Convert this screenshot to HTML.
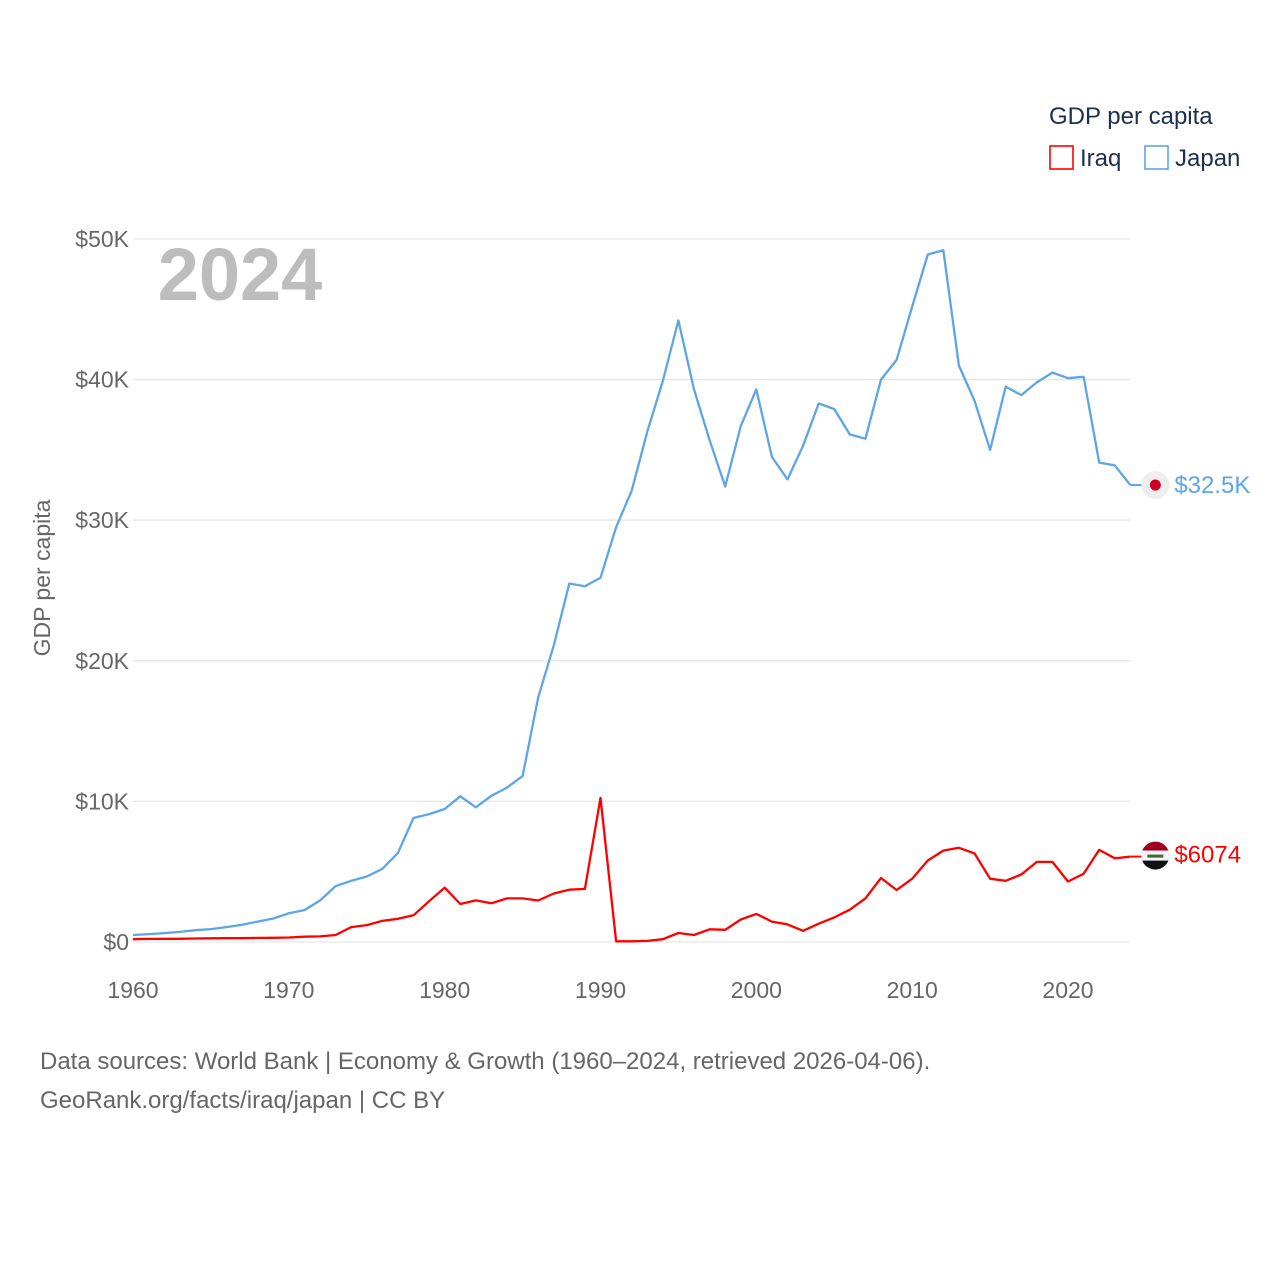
<!DOCTYPE html>
<html><head><meta charset="utf-8"><style>
html,body{margin:0;padding:0;background:#fff;}
svg{display:block;font-family:"Liberation Sans",sans-serif;}
</style></head><body>
<svg id="chart" width="1280" height="1280" viewBox="0 0 1280 1280">
  <g id="grid"></g>
  <g id="yticks"></g>
  <g id="xticks"></g>
  <text x="240" y="300" font-size="74" font-weight="bold" fill="#bdbdbd" text-anchor="middle">2024</text>
  <text transform="translate(50,578) rotate(-90)" font-size="23" fill="#666" text-anchor="middle">GDP per capita</text>
  <g id="series"></g>
  <g>
    <text x="1049" y="124" font-size="24" fill="#1d2f4e">GDP per capita</text>
    <g>
      <rect x="1050" y="146" width="23" height="23" fill="none" stroke="#ff0000" stroke-width="1.6"/>
      <text x="1080" y="166" font-size="24" fill="#1d2f4e">Iraq</text>
    </g>
    <g>
      <rect x="1145" y="146" width="23" height="23" fill="none" stroke="#5da5e8" stroke-width="1.6"/>
      <text x="1175" y="166" font-size="24" fill="#1d2f4e">Japan</text>
    </g>
  </g>
  <text x="40" y="1069" font-size="24" fill="#666">Data sources: World Bank | Economy &amp; Growth (1960–2024, retrieved 2026-04-06).</text>
  <text x="40" y="1108" font-size="24" fill="#666">GeoRank.org/facts/iraq/japan | CC BY</text>
</svg>
<script>
const years = [];
for (let y = 1960; y <= 2024; y++) years.push(y);
const japanValues = [0.5,0.56,0.63,0.72,0.84,0.92,1.06,1.23,1.45,1.67,2.04,2.27,2.95,3.97,4.35,4.66,5.2,6.33,8.82,9.1,9.46,10.36,9.58,10.4,10.98,11.8,17.4,21.1,25.5,25.3,25.9,29.5,32.1,36.3,39.9,44.2,39.3,35.7,32.4,36.7,39.3,34.5,32.9,35.3,38.3,37.9,36.1,35.8,40.0,41.4,45.2,48.9,49.2,41.0,38.5,35.0,39.5,38.9,39.8,40.5,40.1,40.2,34.1,33.9,32.5];
const iraqValues = [0.2,0.22,0.23,0.23,0.25,0.26,0.27,0.27,0.29,0.3,0.32,0.38,0.4,0.5,1.06,1.2,1.5,1.65,1.9,2.9,3.86,2.7,2.96,2.75,3.1,3.1,2.95,3.45,3.72,3.78,10.25,0.05,0.05,0.08,0.2,0.64,0.5,0.9,0.87,1.6,2.0,1.45,1.25,0.8,1.3,1.75,2.3,3.1,4.55,3.7,4.5,5.8,6.5,6.7,6.3,4.5,4.35,4.8,5.7,5.7,4.3,4.85,6.55,5.95,6.074];
const yTickValues = [0,10,20,30,40,50];
const yTickLabels = ["$0","$10K","$20K","$30K","$40K","$50K"];
const xTickYears = [1960,1970,1980,1990,2000,2010,2020];
const endLabels = ["$32.5K","$6074"];

const NS = "http://www.w3.org/2000/svg";
const X0 = 133, XPER = 935/60, Y0 = 942, YPER = 14.06;
const xs = yr => X0 + (yr - 1960) * XPER;
const ys = v => Y0 - v * YPER;
function mk(tag, attrs, parent, txt) {
  const e = document.createElementNS(NS, tag);
  for (const k in attrs) e.setAttribute(k, attrs[k]);
  if (txt !== undefined) e.textContent = txt;
  parent.appendChild(e);
  return e;
}
const grid = document.getElementById('grid');
const yt = document.getElementById('yticks');
yTickValues.forEach((v, i) => {
  const l = mk('line', {x1: 133, x2: 1130, y1: ys(v), y2: ys(v), stroke: '#e6e6e6', 'stroke-width': 1.3}, grid);
  
  
  const t = mk('text', {x: 129, y: ys(v) + 8, 'font-size': 23, fill: '#666', 'text-anchor': 'end'}, yt, yTickLabels[i]);
  
  
});
const xt = document.getElementById('xticks');
xTickYears.forEach(yr => {
  const t = mk('text', {x: xs(yr), y: 998, 'font-size': 23, fill: '#666', 'text-anchor': 'middle'}, xt, String(yr));
  
  
});
const series = document.getElementById('series');
function line(vals, color, name) {
  const d = vals.map((v, i) => (i ? 'L' : 'M') + xs(years[i]).toFixed(1) + ',' + ys(v).toFixed(1)).join(' ');
  const p = mk('path', {d: d, fill: 'none', stroke: color, 'stroke-width': 2.3, 'stroke-linejoin': 'round'}, series);
  
  
}
line(japanValues, '#5da5e8', 'japan-line');
line(iraqValues, '#ff0000', 'iraq-line');

// end markers
const jv = japanValues[japanValues.length - 1], iv = iraqValues[iraqValues.length - 1];
const xe = xs(2024);
const jl = mk('line', {x1: xe, x2: xe + 12, y1: ys(jv), y2: ys(jv), stroke: '#5da5e8', 'stroke-width': 2}, series);


const jg = mk('g', {}, series);


mk('circle', {cx: xe + 25, cy: ys(jv), r: 14, fill: '#eeeeee'}, jg);
mk('circle', {cx: xe + 25, cy: ys(jv), r: 5.5, fill: '#d00020'}, jg);
const jt = mk('text', {x: xe + 44, y: ys(jv) + 8, 'font-size': 24, fill: '#5da5e8'}, series, endLabels[0]);



const il = mk('line', {x1: xe, x2: xe + 12, y1: ys(iv), y2: ys(iv), stroke: '#ff0000', 'stroke-width': 2}, series);


const ig = mk('g', {}, series);


const cy = ys(iv) - 1, cx = xe + 25;
mk('clipPath', {id: 'iqclip'}, ig);
mk('circle', {cx: cx, cy: cy, r: 14}, document.getElementById('iqclip'));
const fg = mk('g', {'clip-path': 'url(#iqclip)'}, ig);
mk('rect', {x: cx - 15, y: cy - 15, width: 30, height: 10, fill: '#a00020'}, fg);
mk('rect', {x: cx - 15, y: cy - 5, width: 30, height: 10, fill: '#f4f4f4'}, fg);
mk('rect', {x: cx - 15, y: cy + 5, width: 30, height: 10, fill: '#111'}, fg);
mk('rect', {x: cx - 8, y: cy - 1, width: 16, height: 3, fill: '#3a6b3a'}, fg);
const itx = mk('text', {x: xe + 44, y: ys(iv) + 6, 'font-size': 24, fill: '#ff0000'}, series, endLabels[1]);


</script>
</body></html>
